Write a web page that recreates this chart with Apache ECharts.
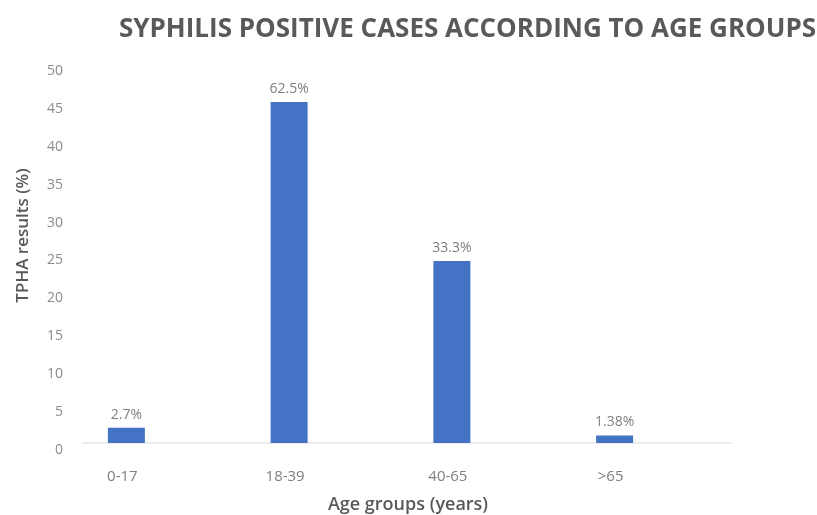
<!DOCTYPE html>
<html>
<head>
<meta charset="utf-8">
<script src="https://cdn.jsdelivr.net/npm/echarts@6/dist/echarts.min.js"></script>
<style>
  html, body { margin: 0; padding: 0; background: #fff; }
  #chart { width: 817px; height: 515px; }
</style>
</head>
<body>
<div id="chart"></div>
<script>
// Age groups and number of TPHA-positive cases in each
const ageGroups = ['0-17', '18-39', '40-65', '>65'];
const positiveCases = [2, 45, 24, 1];
const percentLabels = ['2.7%', '62.5%', '33.3%', '1.38%'];
const yTicks = { min: 0, max: 50, interval: 5 };

const chart = echarts.init(document.getElementById('chart'));

chart.setOption({
  animation: false,
  backgroundColor: '#ffffff',
  textStyle: { fontFamily: 'Open Sans' },
  title: {
    text: 'SYPHILIS POSITIVE CASES ACCORDING TO AGE GROUPS',
    left: 114,
    top: 12,
    textStyle: { fontFamily: 'Open Sans', fontWeight: 700, fontSize: 26, color: '#595959' }
  },
  grid: {
    left: 45, right: 121, top: 64, bottom: 72,
    containLabel: false,
    outerBoundsMode: 'none'
  },
  xAxis: {
    type: 'category',
    data: ageGroups,
    axisLine: { show: false },
    axisTick: { show: false },
    axisLabel: { color: '#7f7f7f', fontSize: 15, margin: 26, padding: [0, 8, 0, 0] },
    name: 'Age groups (years)',
    nameLocation: 'middle',
    nameGap: 53,
    nameTextStyle: { color: '#595959', fontSize: 18, fontWeight: 600, padding: [0, 0, 0, 75] }
  },
  yAxis: {
    type: 'value',
    min: yTicks.min,
    max: yTicks.max,
    interval: yTicks.interval,
    splitLine: { show: false },
    axisLine: { show: false },
    axisTick: { show: false },
    axisLabel: { color: '#8c8c8c', fontSize: 14, margin: -18, verticalAlign: 'top', lineHeight: 14 },
    name: 'TPHA results (%)',
    nameLocation: 'middle',
    nameGap: 13,
    nameTextStyle: { color: '#595959', fontSize: 17, fontWeight: 600, padding: [0, 0, 0, 36] }
  },
  series: [{
    type: 'bar',
    data: positiveCases,
    barWidth: 37,
    itemStyle: { color: '#4472C4' },
    label: {
      show: true,
      position: 'top',
      distance: 6,
      color: '#7f7f7f',
      fontSize: 14,
      formatter: p => percentLabels[p.dataIndex]
    }
  }]
});

// Horizontal baseline along zero
const zeroY = chart.convertToPixel({ yAxisIndex: 0 }, 0);
chart.setOption({
  graphic: [{
    type: 'line',
    shape: { x1: 82, y1: zeroY, x2: 732, y2: zeroY },
    style: { stroke: '#d9d9d9', lineWidth: 1 },
    z: 1
  }]
});
</script>
</body>
</html>
